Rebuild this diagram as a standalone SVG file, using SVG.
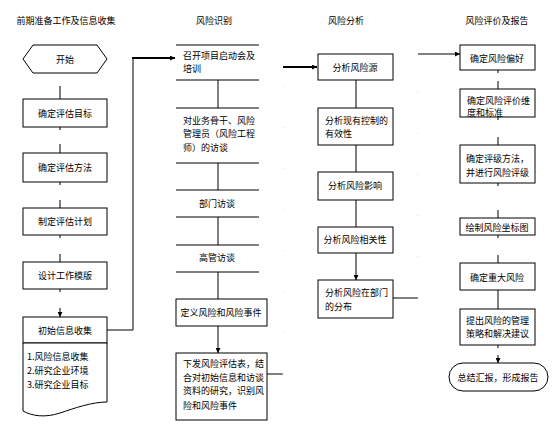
<svg xmlns="http://www.w3.org/2000/svg" width="553" height="429" viewBox="0 0 553 429">
<style>
text{font-family:"Noto Sans CJK SC","Noto Sans CJK TC",sans-serif;font-size:9px;fill:#000;dominant-baseline:central}
.c{text-anchor:middle}
.box{fill:#fff;stroke:#000;stroke-width:1}
.ln{fill:none;stroke:#000;stroke-width:1}
.thick{fill:none;stroke:#000;stroke-width:2}
.faint{fill:none;stroke:#ddd;stroke-width:1;stroke-dasharray:1 40}
</style>
<defs>
<marker id="ah" viewBox="0 0 10 10" refX="10" refY="5" markerWidth="5" markerHeight="5" orient="auto" markerUnits="userSpaceOnUse">
<path d="M0 0 L10 5 L0 10 Z" fill="#000"/>
</marker>
</defs>
<rect width="553" height="429" fill="#fff"/>
<g id="headers">
<text class="c" x="66" y="20">前期准备工作及信息收集</text>
<text class="c" x="214" y="20">风险识别</text>
<text class="c" x="346" y="20">风险分析</text>
<text class="c" x="497" y="20">风险评价及报告</text>
</g>
<g id="connectors">
<!-- column 1 stubs -->
<path class="ln" d="M60 86 V99 M60 144 V153 M60 200 V208 M60 254 V262 M60 308 V317" marker-end="url(#ah)"/>
<path class="ln" d="M60 182 V185 M60 289 V292 M60 127 V130 M60 235 V238"/>
<!-- column 1 to column 2 -->
<path class="ln" d="M107 330 H133 V58"/>
<path class="thick" d="M132 58 H175" marker-end="url(#ah)"/>
<!-- column 2 -->
<path class="ln" d="M218 80 V108 M218 163 V190 M218 217 V245 M218 272 V299 M218 326 V353" marker-end="url(#ah)"/>
<!-- column 2 to column 3 -->
<path class="ln" d="M267 374 H283"/>
<path class="faint" d="M283 374 V67"/>
<path class="thick" d="M283 67 H317" marker-end="url(#ah)"/>
<!-- column 3 -->
<path class="ln" d="M356 80 V108 M356 145 V172 M356 200 V227 M356 253 V280" marker-end="url(#ah)"/>
<!-- column 3 to column 4 -->
<path class="ln" d="M393 298 H418"/>
<path class="faint" d="M418 298 V54"/>
<path class="ln" d="M418 54 H460" marker-end="url(#ah)"/>
<!-- column 4 -->
<path class="ln" d="M498 81 V89 M498 137 V145 M498 210 V218 M498 255 V263 M498 290 V309 M498 355 V363" marker-end="url(#ah)"/>
<path class="ln" d="M498 70 V73 M498 117 V120 M498 183 V186 M498 235 V238 M498 345 V348"/>
</g>
<g id="n-start">
<polygon class="box" points="23,59 33,45 97,45 107,59 97,73 33,73"/>
<text class="c" x="65" y="59">开始</text>
</g>
<g id="n-goal">
<rect class="box" x="23" y="99" width="84" height="28"/>
<text class="c" x="65" y="113">确定评估目标</text>
</g>
<g id="n-method">
<rect class="box" x="23" y="153" width="84" height="29"/>
<text class="c" x="65" y="167">确定评估方法</text>
</g>
<g id="n-plan">
<rect class="box" x="23" y="208" width="84" height="27"/>
<text class="c" x="65" y="221">制定评估计划</text>
</g>
<g id="n-template">
<rect class="box" x="23" y="262" width="84" height="27"/>
<text class="c" x="65" y="275">设计工作模版</text>
</g>
<g id="n-collect">
<rect class="box" x="23" y="317" width="84" height="26"/>
<text class="c" x="65" y="330">初始信息收集</text>
</g>
<g id="n-doc">
<path class="box" d="M23 343 H107 V402 C92 402 75 408 60 413 C45 418 32 416 23 411 Z"/>
<text x="27" y="356">1.风险信息收集</text>
<text x="27" y="370">2.研究企业环境</text>
<text x="27" y="384">3.研究企业目标</text>
</g>
<g id="n-kickoff">
<path class="ln" d="M176 45 H259 M176 80 H259"/>
<text x="183" y="55">召开项目启动会及</text>
<text x="183" y="68">培训</text>
</g>
<g id="n-interview1">
<path class="ln" d="M176 108 H259 M176 163 H259"/>
<text x="183" y="120">对业务骨干、风险</text>
<text x="183" y="133">管理员（风险工程</text>
<text x="183" y="147">师）的访谈</text>
</g>
<g id="n-dept">
<path class="ln" d="M176 190 H259 M176 217 H259"/>
<text class="c" x="217" y="203">部门访谈</text>
</g>
<g id="n-exec">
<path class="ln" d="M176 245 H259 M176 272 H259"/>
<text class="c" x="217" y="257">高管访谈</text>
</g>
<g id="n-define">
<rect class="box" x="176" y="299" width="91" height="27"/>
<text class="c" x="221" y="312">定义风险和风险事件</text>
</g>
<g id="n-identify">
<rect class="box" x="176" y="353" width="91" height="67"/>
<text x="183" y="363">下发风险评估表，结</text>
<text x="183" y="377">合对初始信息和访谈</text>
<text x="183" y="390">资料的研究，识别风</text>
<text x="183" y="405">险和风险事件</text>
</g>
<g id="n-source">
<rect class="box" x="318" y="54" width="75" height="26"/>
<text class="c" x="355" y="67">分析风险源</text>
</g>
<g id="n-control">
<rect class="box" x="318" y="108" width="75" height="37"/>
<text x="325" y="120">分析现有控制的</text>
<text x="325" y="133">有效性</text>
</g>
<g id="n-impact">
<rect class="box" x="318" y="172" width="75" height="28"/>
<text class="c" x="355" y="185">分析风险影响</text>
</g>
<g id="n-correl">
<rect class="box" x="318" y="227" width="75" height="26"/>
<text class="c" x="355" y="239">分析风险相关性</text>
</g>
<g id="n-distrib">
<rect class="box" x="318" y="280" width="75" height="38"/>
<text x="325" y="292">分析风险在部门</text>
<text x="325" y="306">的分布</text>
</g>
<g id="n-appetite">
<rect class="box" x="460" y="45" width="75" height="25"/>
<text class="c" x="497" y="58">确定风险偏好</text>
</g>
<g id="n-criteria">
<rect class="box" x="460" y="89" width="75" height="28"/>
<text x="467" y="100">确定风险评价维</text>
<text x="467" y="112">度和标准</text>
</g>
<g id="n-rating">
<rect class="box" x="460" y="145" width="75" height="38"/>
<text x="466" y="158">确定评级方法，</text>
<text x="466" y="172">并进行风险评级</text>
</g>
<g id="n-map">
<rect class="box" x="460" y="218" width="75" height="17"/>
<text class="c" x="497" y="227">绘制风险坐标图</text>
</g>
<g id="n-major">
<rect class="box" x="460" y="263" width="75" height="27"/>
<text class="c" x="497" y="277">确定重大风险</text>
</g>
<g id="n-strategy">
<rect class="box" x="460" y="309" width="75" height="36"/>
<text x="466" y="320">提出风险的管理</text>
<text x="466" y="333">策略和解决建议</text>
</g>
<g id="n-report">
<rect class="box" x="449" y="363" width="99" height="28" rx="14" ry="14"/>
<text class="c" x="498" y="377">总结汇报，形成报告</text>
</g>
</svg>
